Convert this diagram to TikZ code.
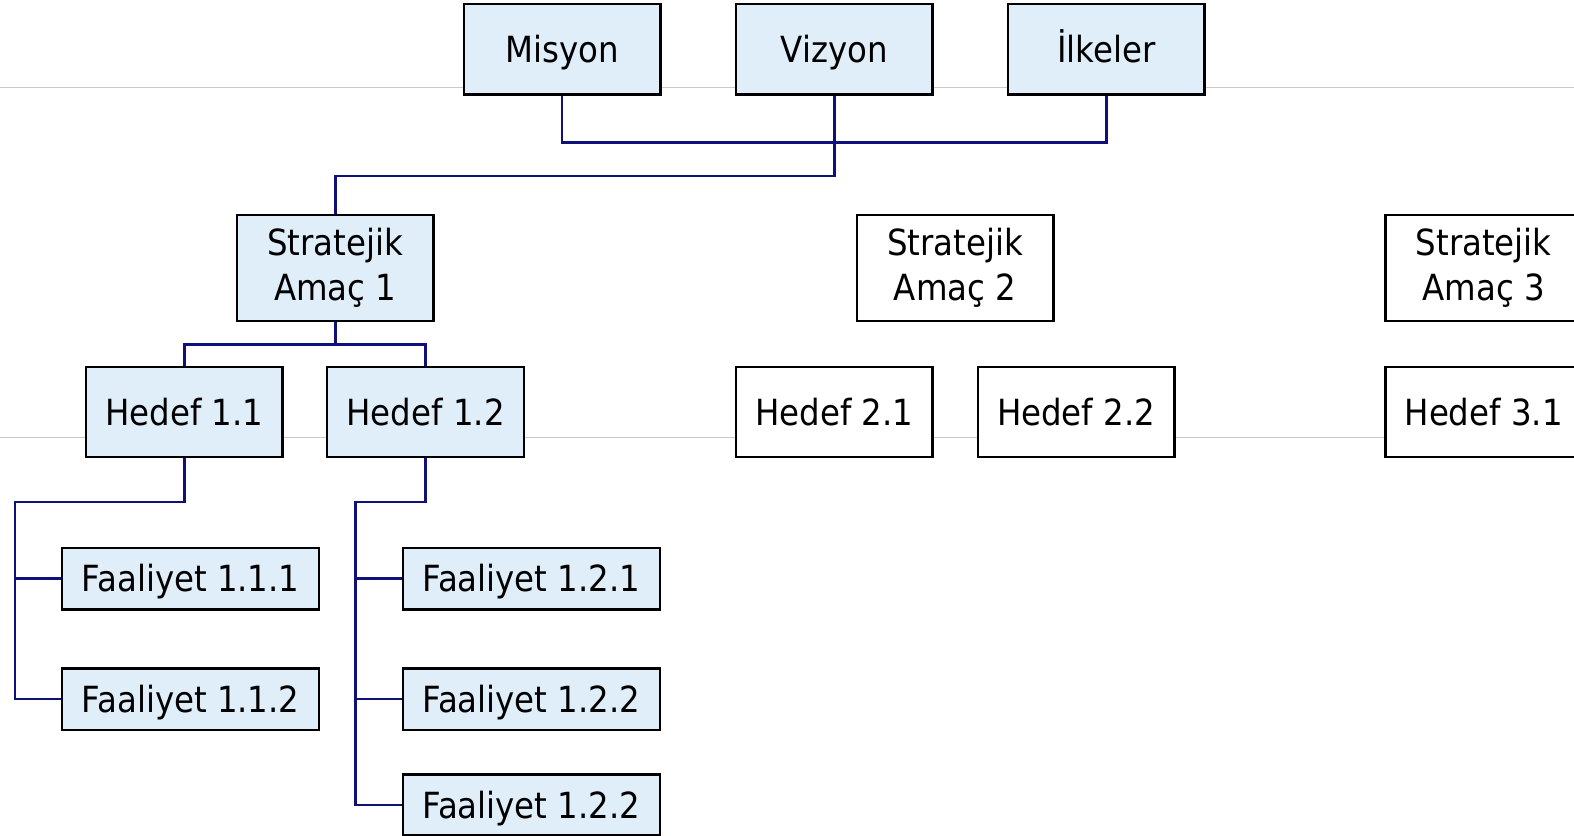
\documentclass[tikz,border=0pt]{standalone}
\usepackage{fontspec}
\setmainfont{DejaVu Sans Condensed}
\usetikzlibrary{calc,positioning}
\definecolor{boxfill}{HTML}{E0EEFA}
\definecolor{navyline}{HTML}{10107A}
\definecolor{guidegrey}{HTML}{C8C8C8}

\tikzset{
  unit/.style={draw=black, line width=1.4pt, font=\fontsize{20.5}{25.5}\selectfont,
    align=center, inner sep=0pt},
  oneline/.style={unit, text height=15pt, text depth=0pt},
  bigbox/.style={oneline, minimum width=3.935cm, minimum height=1.807cm},
  tallbox/.style={unit, minimum width=3.935cm, minimum height=2.128cm},
  actbox/.style={oneline, minimum width=5.14cm, minimum height=1.225cm},
  linked/.style={fill=boxfill},
  conn/.style={navyline, line width=1.5pt},
}

\begin{document}
\begin{tikzpicture}[x=0.020077cm, y=-0.020077cm]
  \useasboundingbox (0,0) rectangle (1568,832);
  \clip (0,0) rectangle (1568,832);
  \fill[white] (0,0) rectangle (1568,832);

  % guide lines
  \draw[guidegrey, line width=0.6pt] (0,87) -- (1568,87);
  \draw[guidegrey, line width=0.6pt] (0,436) -- (1568,436);

  % top row
  \node[bigbox, linked] (mis) at (560,49) {Misyon};
  \node[bigbox, linked] (viz) at (831,49) {Vizyon};
  \node[bigbox, linked] (ilk) at (1102,49) {İlkeler};

  % strategic aims
  \node[tallbox, linked] (sa1) at (334,267) {Stratejik\\Amaç 1};
  \node[tallbox, fill=white] (sa2) at (951.5,267) {Stratejik\\Amaç 2};
  \node[tallbox, fill=white] (sa3) at (1478,267) {Stratejik\\Amaç 3};

  % goals
  \node[bigbox, linked] (h11) at (183.5,410.5) {Hedef 1.1};
  \node[bigbox, linked] (h12) at (424,410.5) {Hedef 1.2};
  \node[bigbox, fill=white] (h21) at (831,410.5) {Hedef 2.1};
  \node[bigbox, fill=white] (h22) at (1072,410.5) {Hedef 2.2};
  \node[bigbox, fill=white] (h31) at (1478,410.5) {Hedef 3.1};

  % activities
  \node[actbox, linked] (f111) at (190,576.5) {Faaliyet 1.1.1};
  \node[actbox, linked] (f112) at (190,696.5) {Faaliyet 1.1.2};
  \node[actbox, linked] (f121) at (529.5,576.5) {Faaliyet 1.2.1};
  \node[actbox, linked] (f122) at (529.5,696.5) {Faaliyet 1.2.2};
  \node[actbox, linked] (f123) at (529.5,802) {Faaliyet 1.2.2};

  % connectors
  \draw[conn] (mis.south) -- ++(0,47) -| (ilk.south);
  \draw[conn] (viz.south) -- ++(0,80) -| (sa1.north);
  \draw[conn] (sa1.south) -- ++(0,22) -| (h11.north);
  \draw[conn] (sa1.south) ++(0,22) -| (h12.north);

  \coordinate (t11) at (15,500);
  \coordinate (t12) at (354,500);
  \draw[conn] (h11.south) |- (t11) |- (f112.west);
  \draw[conn] (t11 |- f111.west) -- (f111.west);
  \draw[conn] (h12.south) |- (t12) |- (f123.west);
  \draw[conn] (t12 |- f121.west) -- (f121.west);
  \draw[conn] (t12 |- f122.west) -- (f122.west);
\end{tikzpicture}
\end{document}
